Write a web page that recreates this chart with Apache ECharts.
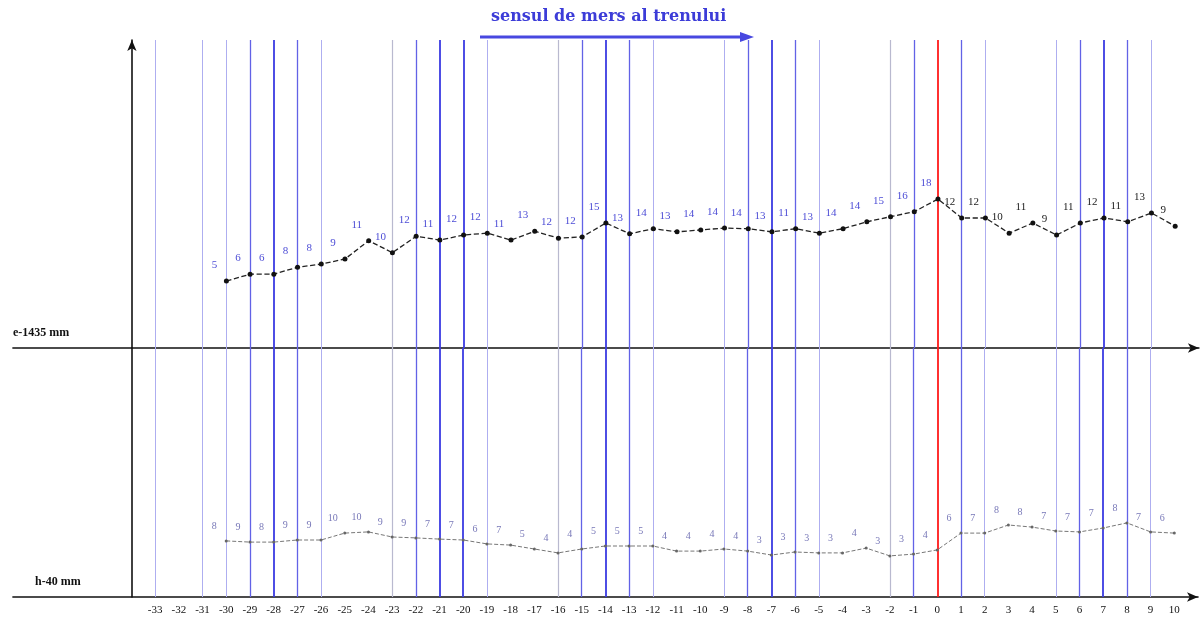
<!DOCTYPE html>
<html>
<head>
<meta charset="utf-8">
<script src="https://cdn.jsdelivr.net/npm/echarts@6/dist/echarts.min.js"></script>
<style>
  html, body { margin: 0; padding: 0; background: #fff; }
  #chart { width: 1201px; height: 621px; }
</style>
</head>
<body>
<div id="chart"></div>
<script>
// pichete (stations) where e and h were measured
var stations = [-30, -29, -28, -27, -26, -25, -24, -23, -22, -21,
                -20, -19, -18, -17, -16, -15, -14, -13, -12, -11,
                -10, -9, -8, -7, -6, -5, -4, -3, -2, -1,
                0, 1, 2, 3, 4, 5, 6, 7, 8, 9, 10];

// ecartament e-1435 mm : plotted level and written value
var ePlot = [5.0, 6.1, 6.1, 7.2, 7.7, 8.5, 11.4, 9.5, 12.1, 11.5,
             12.3, 12.6, 11.5, 12.9, 11.8, 12.0, 14.2, 12.5, 13.3, 12.8,
             13.1, 13.4, 13.3, 12.8, 13.3, 12.6, 13.3, 14.4, 15.2, 16.0,
             18.0, 15.0, 15.0, 12.6, 14.2, 12.3, 14.2, 15.0, 14.4, 15.8, 13.7];
var eText = ['5', '6', '6', '8', '8', '9', '11', '10', '12', '11',
             '12', '12', '11', '13', '12', '12', '15', '13', '14', '13',
             '14', '14', '14', '13', '11', '13', '14', '14', '15', '16',
             '18', '12', '12', '10', '11', '9', '11', '12', '11', '13', '9'];

// nivel h-40 mm : plotted level and written value
var hPlot = [6.7, 6.3, 6.3, 7.0, 7.0, 9.3, 9.7, 8.0, 7.7, 7.3,
             7.0, 5.7, 5.3, 4.0, 2.7, 4.0, 5.0, 5.0, 5.0, 3.3,
             3.3, 4.0, 3.3, 2.0, 3.0, 2.7, 2.7, 4.3, 1.7, 2.3,
             3.7, 9.3, 9.3, 12.0, 11.3, 10.0, 9.7, 11.0, 12.7, 9.7, 9.3];
var hText = ['8', '9', '8', '9', '9', '10', '10', '9', '9', '7',
             '7', '6', '7', '5', '4', '4', '5', '5', '5', '4',
             '4', '4', '4', '3', '3', '3', '3', '4', '3', '3',
             '4', '6', '7', '8', '8', '7', '7', '7', '8', '7', '6'];

// vertical reference lines
var boldLines = [-28, -21, -20, -14, -7, 7];
var midLines = [-29, -27, -22, -15, -13, -8, -6, -1, 1, 6, 8];
var lightLines = [-33, -31, -30, -26, -19, -12, -9, -5, 2, 5, 9];
var greyLines = [-23, -16, -2];
var redLine = [0];

// tick labels shown under the axis
var labelFrom = -33, labelTo = 10;

var serif = '"Liberation Serif", "DejaVu Serif", serif';

function vlines(list, color, width) {
    return list.map(function (v) {
        return { xAxis: v, lineStyle: { color: color, width: width, type: 'solid', opacity: 1 } };
    });
}
var allLines = [].concat(
    vlines(lightLines, '#aeaef0', 1),
    vlines(greyLines, '#b9b9cf', 1.2),
    vlines(midLines, '#6262e6', 1.3),
    vlines(boldLines, '#3a3ae2', 1.8),
    vlines(redLine, '#ff1a1a', 1.8)
);

function gridLineSeries(idx) {
    return {
        type: 'line',
        xAxisIndex: idx, yAxisIndex: idx,
        data: [],
        z: 1,
        silent: true,
        markLine: {
            silent: true,
            symbol: ['none', 'none'],
            label: { show: false },
            animation: false,
            data: allLines
        }
    };
}

var eData = stations.map(function (s, i) {
    return {
        value: [s, ePlot[i]],
        label: { color: s > 0 ? '#222' : '#4d4dd6' }
    };
});
var hData = stations.map(function (s, i) {
    return [s, hPlot[i]];
});

var chart = echarts.init(document.getElementById('chart'));

var xBase = {
    type: 'value',
    min: -39, max: 11, interval: 1,
    splitLine: { show: false },
    axisTick: { show: false },
    axisLine: {
        onZero: false,
        symbol: ['none', 'arrow'],
        symbolSize: [7, 11],
        lineStyle: { color: '#111', width: 1.6 }
    }
};

var option = {
    animation: false,
    backgroundColor: '#fff',
    grid: [
        { left: 12.9, right: 2.1, top: 40, height: 308 },
        { left: 12.9, right: 2.1, top: 348, height: 249 }
    ],
    xAxis: [
        Object.assign({}, xBase, { gridIndex: 0, position: 'bottom', axisLabel: { show: false } }),
        Object.assign({}, xBase, {
            gridIndex: 1, position: 'bottom',
            axisLabel: {
                show: true, margin: 8,
                fontFamily: serif, fontSize: 11, color: '#111',
                formatter: function (v) {
                    return (v >= labelFrom && v <= labelTo) ? String(v) : '';
                }
            }
        })
    ],
    yAxis: [
        {
            type: 'value', gridIndex: 0, min: -5.6, max: 43.2,
            offset: -119,
            splitLine: { show: false }, axisTick: { show: false }, axisLabel: { show: false },
            axisLine: {
                show: true, onZero: false,
                symbol: ['none', 'arrow'], symbolSize: [7, 11],
                lineStyle: { color: '#111', width: 1.6 }
            }
        },
        {
            type: 'value', gridIndex: 1, min: -12, max: 71,
            offset: -119,
            splitLine: { show: false }, axisTick: { show: false }, axisLabel: { show: false },
            axisLine: {
                show: true, onZero: false,
                lineStyle: { color: '#111', width: 1.6 }
            }
        }
    ],
    graphic: [
        {
            type: 'text', left: 491, top: 9,
            style: { text: 'sensul de mers al trenului', font: 'bold 16px "DejaVu Serif", serif', fill: '#3c3cd8' }
        },
        {
            type: 'line', shape: { x1: 480, y1: 37, x2: 742, y2: 37 },
            style: { stroke: '#4848e0', lineWidth: 3 }
        },
        {
            type: 'polygon', shape: { points: [[740, 32], [754, 37], [740, 42]] },
            style: { fill: '#4848e0' }
        },
        {
            type: 'text', left: 13, top: 327,
            style: { text: 'e-1435 mm', font: 'bold 12px ' + serif, fill: '#111' }
        },
        {
            type: 'text', left: 35, top: 576,
            style: { text: 'h-40 mm', font: 'bold 12px ' + serif, fill: '#111' }
        }
    ],
    series: [
        gridLineSeries(0),
        gridLineSeries(1),
        {
            name: 'e-1435 mm',
            type: 'line',
            xAxisIndex: 0, yAxisIndex: 0,
            z: 5,
            data: eData,
            symbol: 'circle',
            symbolSize: 5,
            itemStyle: { color: '#111' },
            lineStyle: { color: '#222', width: 1.3, type: 'dashed' },
            label: {
                show: true, position: 'top', distance: 6, offset: [-12, -2],
                fontFamily: serif, fontSize: 11,
                formatter: function (p) { return eText[p.dataIndex]; }
            }
        },
        {
            name: 'h-40 mm',
            type: 'line',
            xAxisIndex: 1, yAxisIndex: 1,
            z: 5,
            data: hData,
            symbol: 'circle',
            symbolSize: 3,
            itemStyle: { color: '#666' },
            lineStyle: { color: '#777', width: 1, type: 'dashed' },
            label: {
                show: true, position: 'top', distance: 6, offset: [-12, -2],
                fontFamily: serif, fontSize: 10, color: '#7878b8',
                formatter: function (p) { return hText[p.dataIndex]; }
            }
        }
    ]
};
chart.setOption(option);
</script>
</body>
</html>
